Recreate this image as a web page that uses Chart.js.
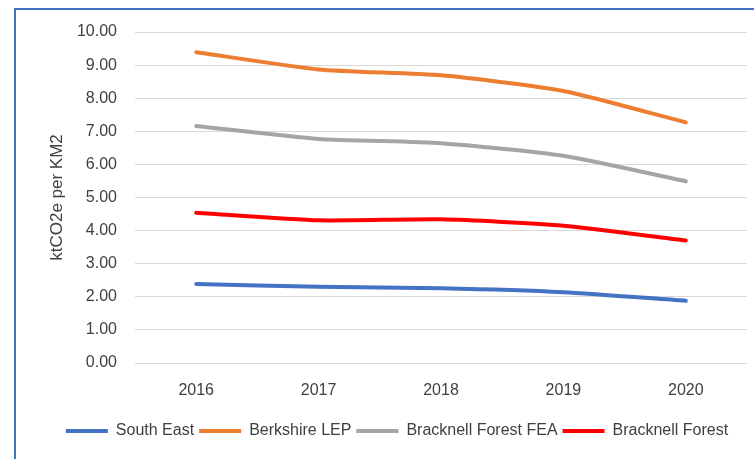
<!DOCTYPE html>
<html>
<head>
<meta charset="utf-8">
<script src="https://cdn.jsdelivr.net/npm/chart.js@4.4.0/dist/chart.umd.min.js"></script>
<style>
  html, body { margin: 0; padding: 0; background: #fff; overflow: hidden; }
  #wrap { position: relative; width: 754px; height: 459px; }
  #frame {
    position: absolute; left: 14px; top: 8px; width: 900px; height: 600px;
    border-left: 2px solid #4472C4; border-top: 2px solid #4472C4;
  }
  #chart { position: absolute; left: 0; top: 0; }
</style>
</head>
<body>
<div id="wrap">
  <div id="frame"></div>
  <canvas id="chart" width="754" height="459"></canvas>
</div>
<script>
  // values
  const years = ['2016', '2017', '2018', '2019', '2020'];
  const southEast = [2.39, 2.30, 2.26, 2.14, 1.88];
  const berkshireLep = [9.39, 8.87, 8.69, 8.22, 7.27];
  const bracknellFea = [7.16, 6.77, 6.64, 6.26, 5.49];
  const bracknellForest = [4.54, 4.31, 4.34, 4.15, 3.70];
  const yTicks = [0, 1, 2, 3, 4, 5, 6, 7, 8, 9, 10];

  const textColor = '#404040';
  const fontFamily = '"Liberation Sans", Arial, sans-serif';

  function line(label, values, color) {
    return {
      label: label,
      data: values,
      borderColor: color,
      backgroundColor: color,
      borderWidth: 4,
      borderCapStyle: 'round',
      pointRadius: 0,
      tension: 0.2,
      fill: false
    };
  }

  const ctx = document.getElementById('chart').getContext('2d');
  new Chart(ctx, {
    type: 'line',
    data: {
      labels: years,
      datasets: [
        line('South East', southEast, '#4472C4'),
        line('Berkshire LEP', berkshireLep, '#ED7D31'),
        line('Bracknell Forest FEA', bracknellFea, '#A5A5A5'),
        line('Bracknell Forest', bracknellForest, '#FF0000')
      ]
    },
    options: {
      responsive: false,
      animation: false,
      layout: { padding: { left: 47, right: 7, top: 32, bottom: 10 } },
      plugins: {
        tooltip: { enabled: false },
        legend: {
          position: 'bottom',
          labels: {
            boxWidth: 42,
            boxHeight: 4,
            padding: 5,
            color: textColor,
            font: { family: fontFamily, size: 16 },
            generateLabels: (chart) => chart.data.datasets.map((ds, i) => ({
              text: ds.label,
              fillStyle: ds.borderColor,
              strokeStyle: ds.borderColor,
              lineWidth: 0,
              fontColor: textColor,
              datasetIndex: i
            }))
          }
        }
      },
      scales: {
        x: {
          offset: true,
          grid: { display: false },
          border: { display: false },
          ticks: {
            color: textColor,
            padding: 10,
            font: { family: fontFamily, size: 16 }
          },
          afterFit: (scale) => { scale.height = 55; }
        },
        y: {
          min: 0,
          max: 10,
          afterBuildTicks: (scale) => { scale.ticks = yTicks.map(v => ({ value: v })); },
          grid: { color: '#D9D9D9', lineWidth: 1, drawTicks: false },
          border: { display: false },
          ticks: {
            color: textColor,
            padding: 18,
            font: { family: fontFamily, size: 16 },
            callback: (v) => Number(v).toFixed(2)
          },
          title: {
            display: true,
            text: 'ktCO2e per KM2',
            color: textColor,
            padding: 0,
            font: { family: fontFamily, size: 17 }
          },
          afterFit: (scale) => { scale.width = 88; }
        }
      }
    }
  });
</script>
</body>
</html>
